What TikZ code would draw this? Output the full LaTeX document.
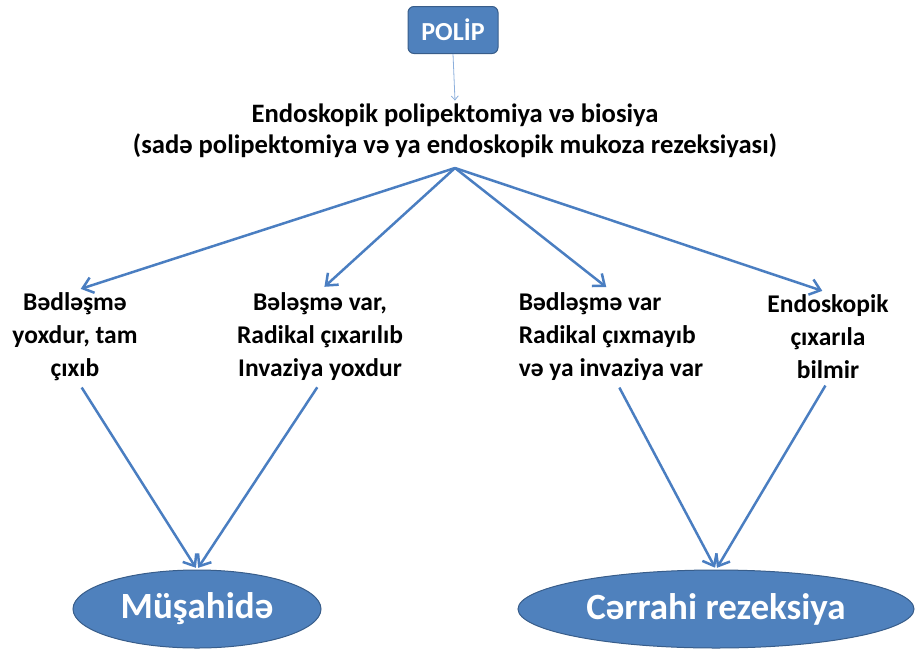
\documentclass[tikz,border=0pt]{standalone}
\usepackage{fontspec}
\setmainfont{Carlito}
\usetikzlibrary{shapes.geometric,arrows.meta}
\definecolor{officeblue}{RGB}{79,129,189}
\definecolor{officeedge}{RGB}{56,93,138}
\definecolor{arrowblue}{RGB}{74,126,193}
\definecolor{arrowlight}{RGB}{140,175,220}

\begin{document}
\begin{tikzpicture}[x=1pt,y=-1pt,
  flowarrow/.style={arrowblue,line width=2.5pt,shorten >=2pt,-{Straight Barb[length=10pt,width=16pt]}},
  choice/.style={font=\fontsize{25.5}{33}\selectfont\bfseries,align=center,inner sep=2pt},
  outcome/.style={ellipse,draw=officeedge,line width=1pt,fill=officeblue,text=white,
    font=\fontsize{37}{42}\selectfont\bfseries,minimum height=78pt,inner sep=0pt}]

  \useasboundingbox (0,0) rectangle (915,648);

  % ── TOP: POLIP box and procedure ──────────────────────────────────────────
  \node[draw=officeedge,fill=officeblue,rounded corners=6pt,text=white,line width=1pt,
    font=\fontsize{26}{28}\selectfont\bfseries,minimum width=90pt,minimum height=47pt]
    (polip) at (453,30) {POLİP};

  \node[font=\fontsize{26.6}{31}\selectfont\bfseries,align=center] (endo) at (455,131)
    {Endoskopik polipektomiya və biosiya\\(sadə polipektomiya və ya endoskopik mukoza rezeksiyası)};

  \draw[arrowlight,line width=0.8pt,-{Straight Barb[length=4pt,width=7pt]}]
    (polip.south) -- (endo.north);

  \coordinate (hub) at (455,168);

  % ── FOUR OUTCOMES OF BIOPSY ──────────────────────────────────────────────
  \node[choice] (nomalig) at (75,337) {Bədləşmə\\yoxdur, tam\\çıxıb};
  \node[choice] (radical) at (320,337) {Bələşmə var,\\Radikal çıxarılıb\\Invaziya yoxdur};
  \node[choice,align=left] (invasive) at (611,337) {Bədləşmə var\\Radikal çıxmayıb\\və ya invaziya var};
  \node[choice] (noendo) at (828,337) {Endoskopik\\çıxarıla\\bilmir};

  \draw[flowarrow,shorten >=6pt] (hub) -- (nomalig.north);
  \draw[flowarrow,shorten >=6pt] (hub) -- (radical.north);
  \draw[flowarrow,shorten >=6pt] (hub) -- (invasive.north);
  \draw[flowarrow,shorten >=6pt] (hub) -- (noendo.north);

  % ── FINAL DECISIONS ──────────────────────────────────────────────────────
  \node[outcome,minimum width=248pt] (watch) at (197,609) {Müşahidə};
  \node[outcome,minimum width=396pt] (surgery) at (716,609) {Cərrahi rezeksiya};

  \draw[flowarrow,shorten <=5pt] ([xshift=4pt]nomalig.south) -- (watch.north);
  \draw[flowarrow,shorten <=5pt] (radical.south) -- (watch.north);
  \draw[flowarrow,shorten <=5pt] ([xshift=6pt]invasive.south) -- (surgery.north);
  \draw[flowarrow,shorten <=5pt] (noendo.south) -- (surgery.north);

\end{tikzpicture}
\end{document}
